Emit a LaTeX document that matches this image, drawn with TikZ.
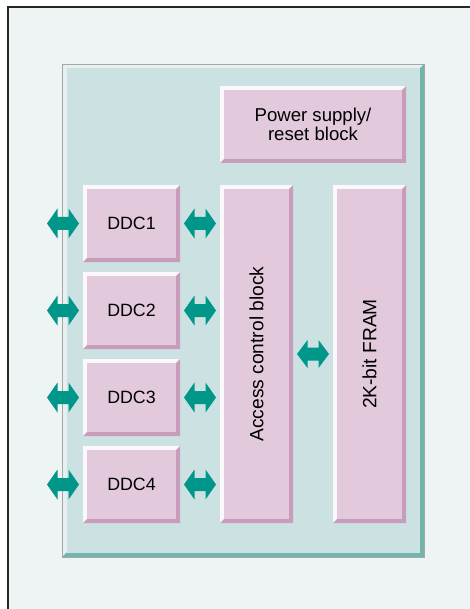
\documentclass[tikz,border=0pt]{standalone}
\usepackage{fontspec}
\setmainfont{Liberation Sans}
\usetikzlibrary{calc}

\definecolor{pagebg}{HTML}{EEF4F3}
\definecolor{chipfill}{HTML}{CCE1E2}
\definecolor{chipedge}{HTML}{72B5AF}
\definecolor{chiplite}{HTML}{E6F0EF}
\definecolor{blkfill}{HTML}{E2CADC}
\definecolor{blkdark}{HTML}{C79DBB}
\definecolor{arrowteal}{HTML}{00968A}

\tikzset{
  % bevelled box: light top/left rim, darker bottom/right rim
  bevel/.style n args={4}{
    path picture={
      \fill[#1] (path picture bounding box.south west) rectangle (path picture bounding box.north east);
      \fill[#2] (path picture bounding box.south west) -- (path picture bounding box.south east)
        -- (path picture bounding box.north east) -- ([shift={(-#4,-#4)}]path picture bounding box.north east)
        -- ([shift={(-#4,#4)}]path picture bounding box.south east)
        -- ([shift={(#4,#4)}]path picture bounding box.south west) -- cycle;
      \fill[#3] ([shift={(#4,#4)}]path picture bounding box.south west) rectangle ([shift={(-#4,-#4)}]path picture bounding box.north east);
    }},
  chip/.style={draw=black!35, line width=0.6pt, inner sep=0pt,
    bevel={chiplite}{chipedge}{chipfill}{4.5pt}},
  blk/.style={inner sep=0pt, font=\fontsize{18.6}{15}\selectfont, align=center,
    bevel={white!85!blkfill}{blkdark}{blkfill}{4pt}},
  ddc/.style={blk, minimum width=97pt, minimum height=77pt, font=\fontsize{17.8}{15}\selectfont},
  tall/.style={blk, minimum width=73pt, minimum height=338pt, font=\fontsize{19.2}{15}\selectfont},
  % two-headed bus arrow: 32 long, head half-height #1, shaft half-height 6.5
  busarrow/.style={inner sep=0pt, minimum width=33pt, minimum height=2*#1+1,
    path picture={
      \coordinate (bc) at (path picture bounding box.center);
      \fill[arrowteal] ($(bc)+(-16,0)$) -- ($(bc)+(-5.5,#1)$) -- ($(bc)+(-5.5,6.5)$)
        -- ($(bc)+(5.5,6.5)$) -- ($(bc)+(5.5,#1)$) -- ($(bc)+(16,0)$)
        -- ($(bc)+(5.5,-#1)$) -- ($(bc)+(5.5,-6.5)$) -- ($(bc)+(-5.5,-6.5)$)
        -- ($(bc)+(-5.5,-#1)$) -- cycle;
    }},
  busarrow/.default=15
}

\begin{document}
\begin{tikzpicture}[x=1pt, y=-1pt]
\useasboundingbox (0,0) rectangle (470,609);
\fill[white] (0,0) rectangle (470,609);
% page frame, open to the right and bottom
\fill[pagebg] (8,7) rectangle (475,615);
\draw[black!85, line width=1.4pt] (8,615) -- (8,7) -- (475,7);

% device outline
\node[chip, minimum width=362pt, minimum height=493pt] (dev) at (243,310.5) {};

% functional blocks
\node[blk, minimum width=186pt, minimum height=77pt] (pwr) at (313,124.5) {Power supply/\\reset block};
\node[ddc] (d1) at (131.5,223.5) {DDC1};
\node[ddc] (d2) at (131.5,310.5) {DDC2};
\node[ddc] (d3) at (131.5,397.5) {DDC3};
\node[ddc] (d4) at (131.5,484.5) {DDC4};
\node[tall] (acc) at (256.5,354) {\rotatebox{90}{Access control block}};
\node[tall] (fram) at (369.5,354) {\rotatebox{90}{2K-bit FRAM}};

% bidirectional buses
\foreach \i in {1,...,4}{
  \node[busarrow] (ext\i) at (d\i.west -| 63,0) {};
  \node[busarrow] (int\i) at ($(d\i.east)!0.5!(d\i.east -| acc.west)$) {};
}
\node[busarrow=14] (mid) at ($(acc.east)!0.5!(fram.west)$) {};
\end{tikzpicture}
\end{document}
